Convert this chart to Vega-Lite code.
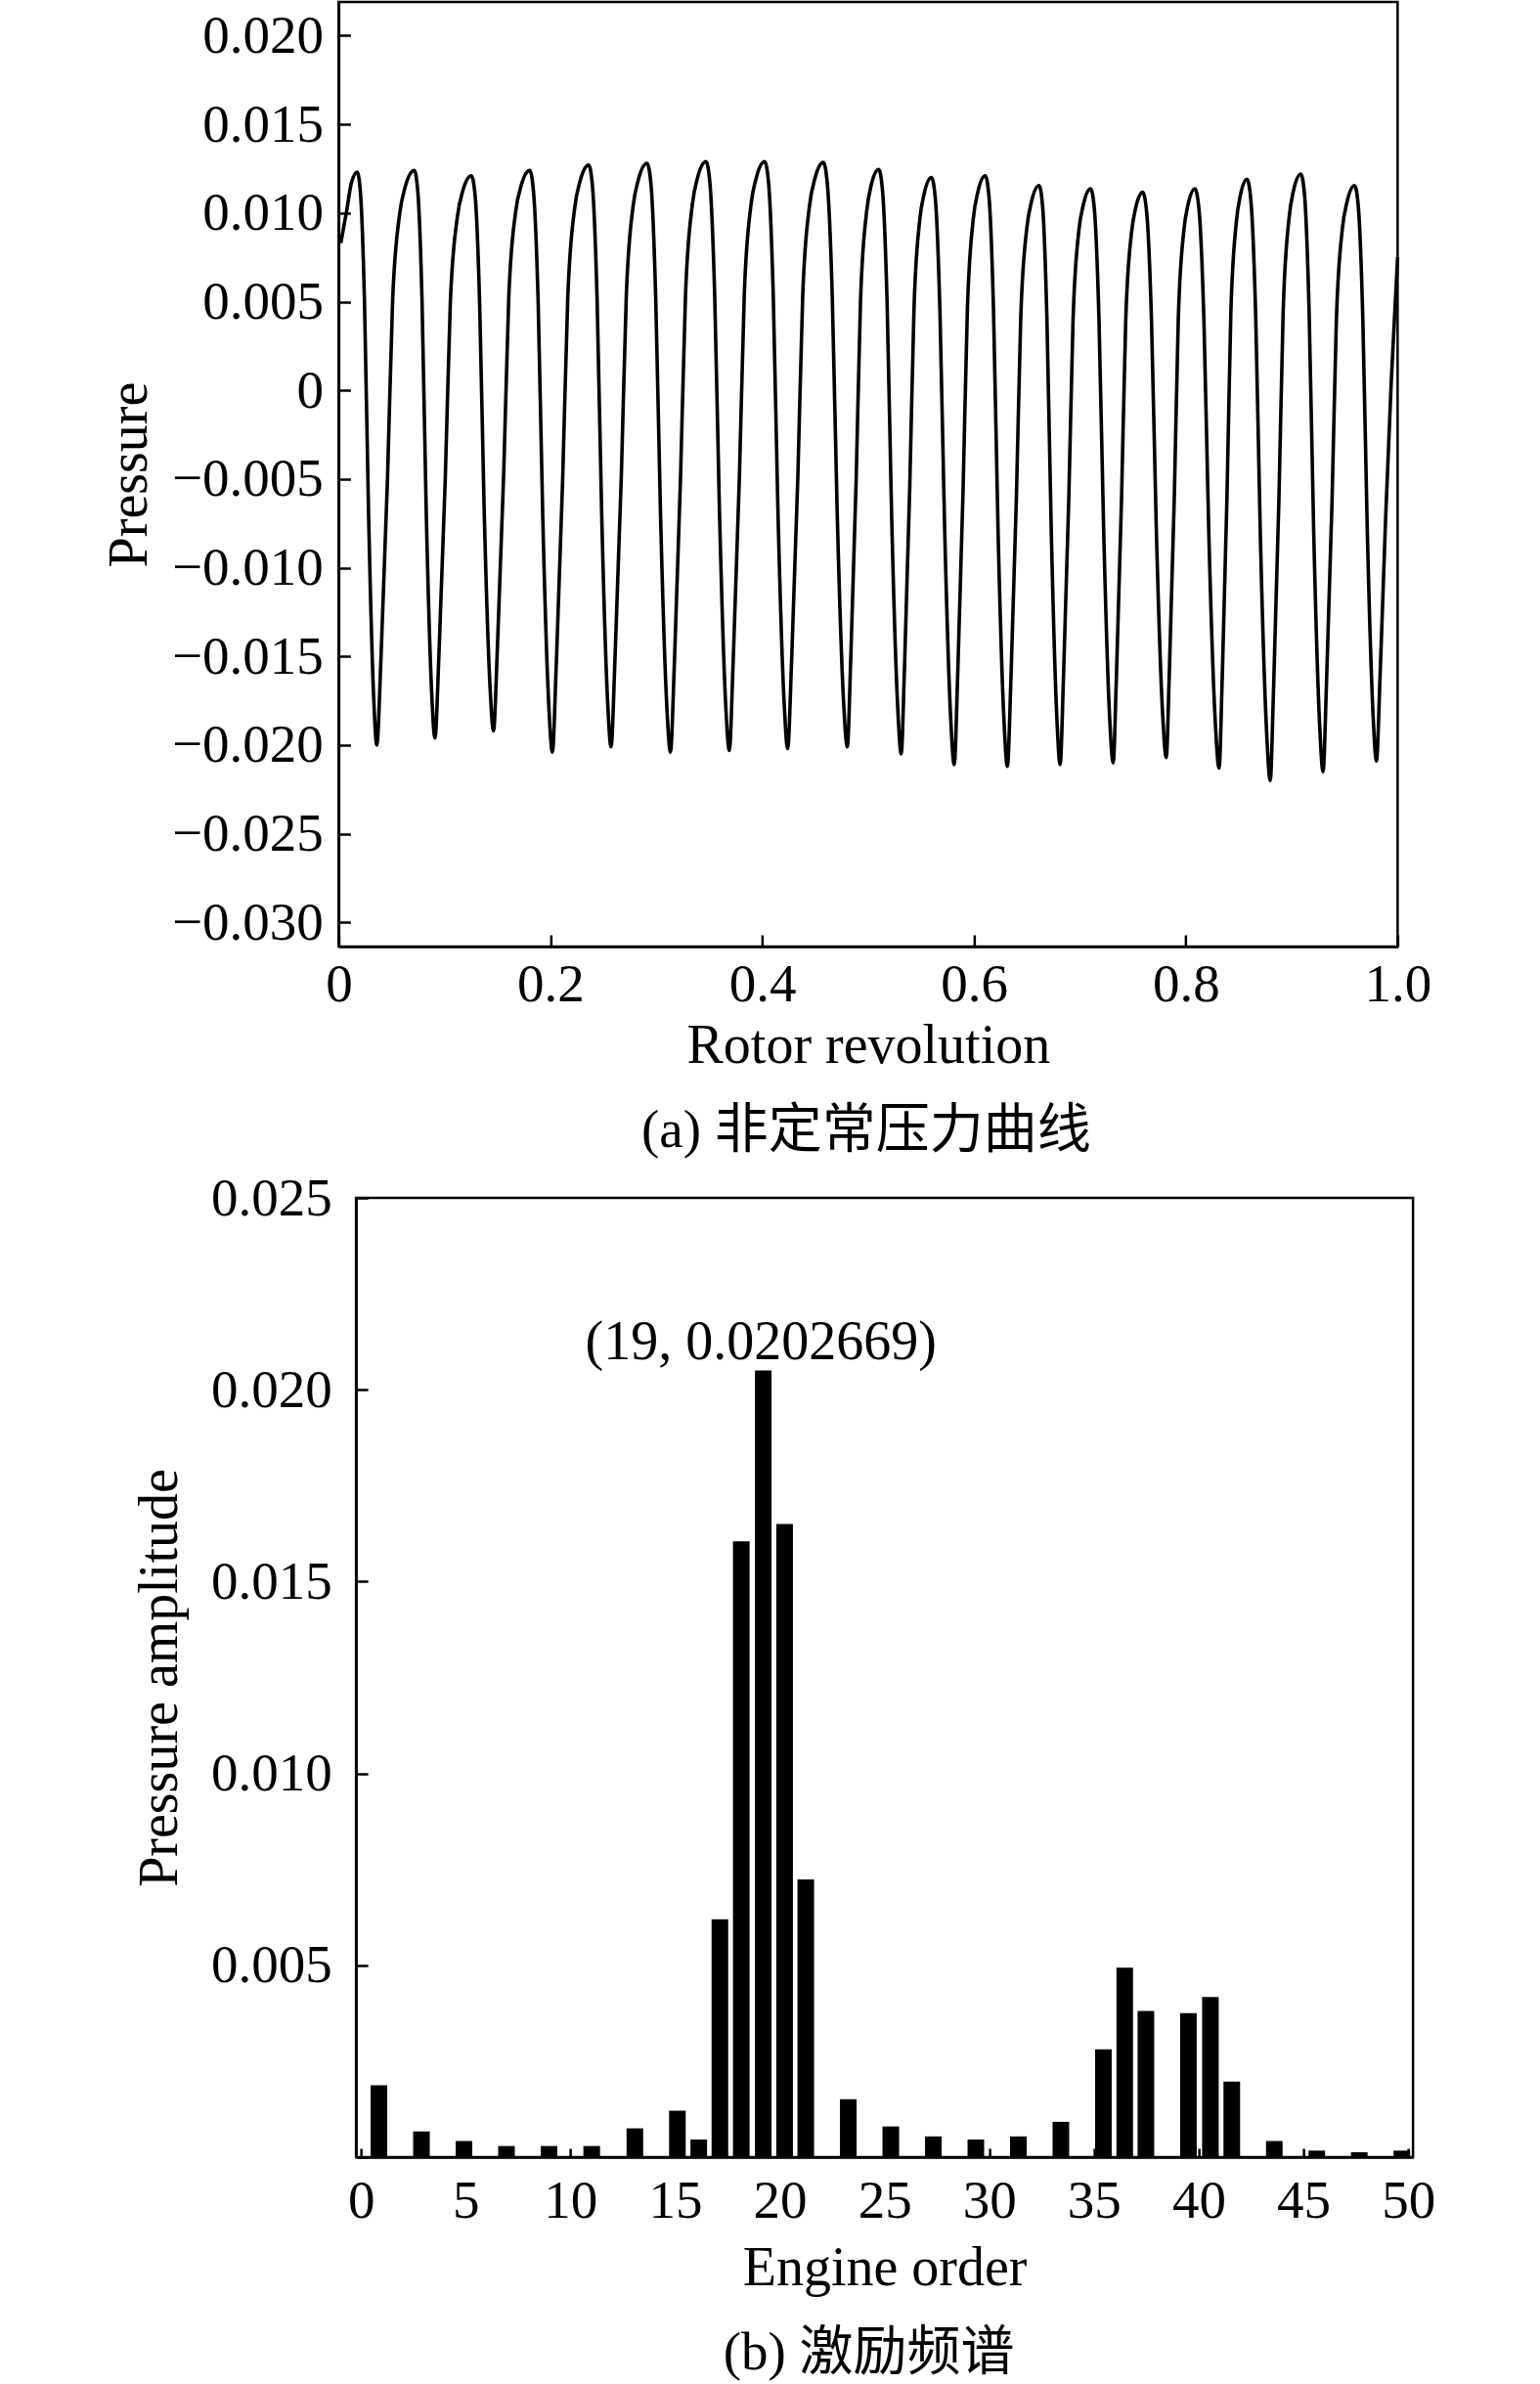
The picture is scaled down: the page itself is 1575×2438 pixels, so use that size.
{
  "$schema": "https://vega.github.io/schema/vega-lite/v6.json",
  "background": "white",
  "padding": {"left": 103, "top": 0, "right": 5, "bottom": 0},
  "center": true,
  "spacing": 10,
  "config": {
    "font": "Liberation Serif",
    "view": {"stroke": "black", "strokeWidth": 2.5},
    "axis": {
      "grid": false,
      "labelFont": "Liberation Serif",
      "titleFont": "Liberation Serif",
      "labelFontSize": 55,
      "titleFontSize": 56,
      "titleFontWeight": "normal",
      "labelColor": "black",
      "titleColor": "black",
      "domainColor": "black",
      "domainWidth": 2.5,
      "tickColor": "black",
      "tickWidth": 2.5,
      "labelFlush": false,
      "labelOverlap": false
    },
    "title": {
      "font": "Liberation Serif, Noto Sans CJK SC",
      "fontSize": 55,
      "fontWeight": "normal",
      "color": "black"
    }
  },
  "vconcat": [
    {
      "width": 1083,
      "height": 966,
      "title": {"text": "(a) 非定常压力曲线", "orient": "bottom", "anchor": "middle", "frame": "group", "offset": 33, "dx": -2},
      "data": {"values": [
        {"rev": 0.002, "p": 0.0083}, {"rev": 0.0075, "p": 0.0101}, {"rev": 0.012, "p": 0.0117},
        {"rev": 0.0175, "p": 0.0123},
        {"rev": 0.0206, "p": 0.0111}, {"rev": 0.0244, "p": 0.00494}, {"rev": 0.0282, "p": -0.00689}, {"rev": 0.0332, "p": -0.01751}, {"rev": 0.0360, "p": -0.0200},
        {"rev": 0.0400, "p": -0.01501}, {"rev": 0.0461, "p": -0.0050}, {"rev": 0.0509, "p": 0.00501}, {"rev": 0.0577, "p": 0.0100}, {"rev": 0.0629, "p": 0.01149},
        {"rev": 0.0714, "p": 0.0124},
        {"rev": 0.0747, "p": 0.01122}, {"rev": 0.0787, "p": 0.0051}, {"rev": 0.0826, "p": -0.00661}, {"rev": 0.0879, "p": -0.01714}, {"rev": 0.0909, "p": -0.0196},
        {"rev": 0.0948, "p": -0.01472}, {"rev": 0.1007, "p": -0.00492}, {"rev": 0.1054, "p": 0.00487}, {"rev": 0.1120, "p": 0.00975}, {"rev": 0.1170, "p": 0.01121},
        {"rev": 0.1253, "p": 0.0121},
        {"rev": 0.1289, "p": 0.01094}, {"rev": 0.1331, "p": 0.00496}, {"rev": 0.1373, "p": -0.00649}, {"rev": 0.1430, "p": -0.01679}, {"rev": 0.1462, "p": -0.0192},
        {"rev": 0.1500, "p": -0.01433}, {"rev": 0.1559, "p": -0.00457}, {"rev": 0.1606, "p": 0.0052}, {"rev": 0.1671, "p": 0.01006}, {"rev": 0.1722, "p": 0.01152},
        {"rev": 0.1804, "p": 0.0124},
        {"rev": 0.1840, "p": 0.01119}, {"rev": 0.1884, "p": 0.00492}, {"rev": 0.1927, "p": -0.00708}, {"rev": 0.1985, "p": -0.01787}, {"rev": 0.2018, "p": -0.0204},
        {"rev": 0.2056, "p": -0.0153}, {"rev": 0.2115, "p": -0.00507}, {"rev": 0.2163, "p": 0.00515}, {"rev": 0.2228, "p": 0.01025}, {"rev": 0.2278, "p": 0.01177},
        {"rev": 0.2361, "p": 0.0127},
        {"rev": 0.2397, "p": 0.01149}, {"rev": 0.2440, "p": 0.00522}, {"rev": 0.2483, "p": -0.00678}, {"rev": 0.2540, "p": -0.01757}, {"rev": 0.2572, "p": -0.0201},
        {"rev": 0.2610, "p": -0.01503}, {"rev": 0.2669, "p": -0.00487}, {"rev": 0.2716, "p": 0.0053}, {"rev": 0.2780, "p": 0.01037}, {"rev": 0.2830, "p": 0.01188},
        {"rev": 0.2912, "p": 0.0128},
        {"rev": 0.2950, "p": 0.01157}, {"rev": 0.2994, "p": 0.00523}, {"rev": 0.3039, "p": -0.00692}, {"rev": 0.3099, "p": -0.01784}, {"rev": 0.3133, "p": -0.0204},
        {"rev": 0.3171, "p": -0.01527}, {"rev": 0.3228, "p": -0.00498}, {"rev": 0.3275, "p": 0.00531}, {"rev": 0.3339, "p": 0.01044}, {"rev": 0.3388, "p": 0.01197},
        {"rev": 0.3469, "p": 0.0129},
        {"rev": 0.3506, "p": 0.01167}, {"rev": 0.3551, "p": 0.00533}, {"rev": 0.3596, "p": -0.00682}, {"rev": 0.3655, "p": -0.01774}, {"rev": 0.3689, "p": -0.0203},
        {"rev": 0.3726, "p": -0.01519}, {"rev": 0.3784, "p": -0.00493}, {"rev": 0.3830, "p": 0.00533}, {"rev": 0.3893, "p": 0.01044}, {"rev": 0.3943, "p": 0.01197},
        {"rev": 0.4023, "p": 0.0129},
        {"rev": 0.4060, "p": 0.01168}, {"rev": 0.4104, "p": 0.00535}, {"rev": 0.4148, "p": -0.00676}, {"rev": 0.4207, "p": -0.01765}, {"rev": 0.4240, "p": -0.0202},
        {"rev": 0.4278, "p": -0.01511}, {"rev": 0.4336, "p": -0.0049}, {"rev": 0.4382, "p": 0.00531}, {"rev": 0.4446, "p": 0.0104}, {"rev": 0.4496, "p": 0.01192},
        {"rev": 0.4577, "p": 0.01285},
        {"rev": 0.4615, "p": 0.01163}, {"rev": 0.4661, "p": 0.00534}, {"rev": 0.4707, "p": -0.00672}, {"rev": 0.4768, "p": -0.01756}, {"rev": 0.4803, "p": -0.0201},
        {"rev": 0.4836, "p": -0.01509}, {"rev": 0.4887, "p": -0.00502}, {"rev": 0.4928, "p": 0.00504}, {"rev": 0.4985, "p": 0.01005}, {"rev": 0.5028, "p": 0.01155},
        {"rev": 0.5100, "p": 0.01246},
        {"rev": 0.5136, "p": 0.01124}, {"rev": 0.5179, "p": 0.00495}, {"rev": 0.5222, "p": -0.00712}, {"rev": 0.5280, "p": -0.01796}, {"rev": 0.5312, "p": -0.0205},
        {"rev": 0.5344, "p": -0.0155}, {"rev": 0.5393, "p": -0.00545}, {"rev": 0.5433, "p": 0.00459}, {"rev": 0.5487, "p": 0.0096}, {"rev": 0.5529, "p": 0.01109},
        {"rev": 0.5598, "p": 0.0120},
        {"rev": 0.5635, "p": 0.01078}, {"rev": 0.5678, "p": 0.00445}, {"rev": 0.5722, "p": -0.00766}, {"rev": 0.5780, "p": -0.01855}, {"rev": 0.5813, "p": -0.0211},
        {"rev": 0.5846, "p": -0.01599}, {"rev": 0.5896, "p": -0.00573}, {"rev": 0.5937, "p": 0.00453}, {"rev": 0.5992, "p": 0.00964}, {"rev": 0.6035, "p": 0.01117},
        {"rev": 0.6106, "p": 0.0121},
        {"rev": 0.6142, "p": 0.01087}, {"rev": 0.6184, "p": 0.00451}, {"rev": 0.6226, "p": -0.00768}, {"rev": 0.6283, "p": -0.01864}, {"rev": 0.6315, "p": -0.0212},
        {"rev": 0.6349, "p": -0.01616}, {"rev": 0.6400, "p": -0.00604}, {"rev": 0.6441, "p": 0.00408}, {"rev": 0.6498, "p": 0.00913}, {"rev": 0.6542, "p": 0.01063},
        {"rev": 0.6614, "p": 0.01155},
        {"rev": 0.6648, "p": 0.01034}, {"rev": 0.6688, "p": 0.00411}, {"rev": 0.6729, "p": -0.00784}, {"rev": 0.6783, "p": -0.01859}, {"rev": 0.6813, "p": -0.0211},
        {"rev": 0.6845, "p": -0.0161}, {"rev": 0.6895, "p": -0.00607}, {"rev": 0.6935, "p": 0.00397}, {"rev": 0.6989, "p": 0.00897}, {"rev": 0.7032, "p": 0.01046},
        {"rev": 0.7101, "p": 0.01137},
        {"rev": 0.7137, "p": 0.01017}, {"rev": 0.7180, "p": 0.00399}, {"rev": 0.7224, "p": -0.00786}, {"rev": 0.7281, "p": -0.01851}, {"rev": 0.7314, "p": -0.0210},
        {"rev": 0.7345, "p": -0.01605}, {"rev": 0.7393, "p": -0.00611}, {"rev": 0.7432, "p": 0.00384}, {"rev": 0.7485, "p": 0.00879}, {"rev": 0.7526, "p": 0.01027},
        {"rev": 0.7593, "p": 0.01117},
        {"rev": 0.7631, "p": 0.00999}, {"rev": 0.7676, "p": 0.0039}, {"rev": 0.7721, "p": -0.00776}, {"rev": 0.7781, "p": -0.01825}, {"rev": 0.7815, "p": -0.0207},
        {"rev": 0.7845, "p": -0.01576}, {"rev": 0.7892, "p": -0.00585}, {"rev": 0.7929, "p": 0.00406}, {"rev": 0.7981, "p": 0.009}, {"rev": 0.8021, "p": 0.01047},
        {"rev": 0.8086, "p": 0.01137},
        {"rev": 0.8125, "p": 0.01016}, {"rev": 0.8171, "p": 0.00392}, {"rev": 0.8217, "p": -0.00804}, {"rev": 0.8279, "p": -0.01878}, {"rev": 0.8314, "p": -0.0213},
        {"rev": 0.8344, "p": -0.01619}, {"rev": 0.8389, "p": -0.00593}, {"rev": 0.8425, "p": 0.00433}, {"rev": 0.8476, "p": 0.00944}, {"rev": 0.8514, "p": 0.01097},
        {"rev": 0.8578, "p": 0.0119},
        {"rev": 0.8615, "p": 0.01065}, {"rev": 0.8660, "p": 0.00417}, {"rev": 0.8704, "p": -0.00824}, {"rev": 0.8764, "p": -0.01939}, {"rev": 0.8797, "p": -0.0220},
        {"rev": 0.8829, "p": -0.01673}, {"rev": 0.8879, "p": -0.00617}, {"rev": 0.8919, "p": 0.0044}, {"rev": 0.8974, "p": 0.00967}, {"rev": 0.9016, "p": 0.01124},
        {"rev": 0.9086, "p": 0.0122},
        {"rev": 0.9122, "p": 0.01095}, {"rev": 0.9164, "p": 0.00452}, {"rev": 0.9207, "p": -0.00782}, {"rev": 0.9264, "p": -0.01891}, {"rev": 0.9296, "p": -0.0215},
        {"rev": 0.9329, "p": -0.01641}, {"rev": 0.9381, "p": -0.0062}, {"rev": 0.9422, "p": 0.00401}, {"rev": 0.9478, "p": 0.0091}, {"rev": 0.9522, "p": 0.01062},
        {"rev": 0.9594, "p": 0.01155},
        {"rev": 0.9629, "p": 0.01035}, {"rev": 0.9671, "p": 0.00415}, {"rev": 0.9713, "p": -0.00773}, {"rev": 0.9769, "p": -0.0184}, {"rev": 0.9800, "p": -0.0209},
        {"rev": 0.9835, "p": -0.0160}, {"rev": 0.9885, "p": -0.0075}, {"rev": 0.9940, "p": 0.0005}, {"rev": 1.0, "p": 0.0075}
      ]},
      "encoding": {
        "x": {
          "field": "rev",
          "type": "quantitative",
          "scale": {"domain": [0, 1], "nice": false, "zero": false},
          "axis": {
            "title": "Rotor revolution",
            "values": [0, 0.2, 0.4, 0.6, 0.8, 1],
            "labelExpr": "datum.value == 0 ? '0' : format(datum.value, '.1f')",
            "tickSize": -12,
            "labelPadding": 24,
            "minExtent": 66,
            "maxExtent": 66,
            "titlePadding": 8
          }
        }
      },
      "layer": [
        {
          "mark": {"type": "line", "interpolate": "monotone", "color": "black", "strokeWidth": 3.6},
          "encoding": {
            "y": {
              "field": "p",
              "type": "quantitative",
              "scale": {"domain": [-0.03136, 0.0219], "nice": false, "zero": false},
              "axis": {
                "title": "Pressure",
                "orient": "left",
                "values": [-0.03, -0.025, -0.02, -0.015, -0.01, -0.005, 0, 0.005, 0.01, 0.015, 0.02],
                "labelExpr": "datum.value == 0 ? '0' : format(datum.value, '.3f')",
                "tickSize": -12,
                "labelPadding": 28,
                "minExtent": 170,
                "maxExtent": 170,
                "titlePadding": 15
              }
            }
          }
        },
        {
          "mark": {"type": "line", "opacity": 0},
          "encoding": {
            "y": {
              "field": "p",
              "type": "quantitative",
              "axis": {"orient": "right", "labels": false, "ticks": false, "domain": false, "title": null, "minExtent": 56, "maxExtent": 56}
            }
          }
        }
      ],
      "resolve": {"axis": {"y": "independent"}}
    },
    {
      "width": 1081,
      "height": 981,
      "title": {"text": "(b) 激励频谱", "orient": "bottom", "anchor": "middle", "frame": "group", "offset": 33, "dx": -16},
      "layer": [
        {
          "data": {"values": [
            {"order": 0.86, "amp": 0.00187}, {"order": 2.89, "amp": 0.00067}, {"order": 4.92, "amp": 0.00042},
            {"order": 6.95, "amp": 0.00029}, {"order": 8.98, "amp": 0.00029}, {"order": 11.02, "amp": 0.00029},
            {"order": 13.08, "amp": 0.00075}, {"order": 15.11, "amp": 0.00121}, {"order": 16.13, "amp": 0.00046},
            {"order": 17.14, "amp": 0.0062}, {"order": 18.16, "amp": 0.01605}, {"order": 19.21, "amp": 0.0205},
            {"order": 20.23, "amp": 0.0165}, {"order": 21.24, "amp": 0.00724}, {"order": 23.27, "amp": 0.00151},
            {"order": 25.3, "amp": 0.0008}, {"order": 27.33, "amp": 0.00054}, {"order": 29.36, "amp": 0.00046},
            {"order": 31.39, "amp": 0.00054}, {"order": 33.42, "amp": 0.00092}, {"order": 35.45, "amp": 0.00281},
            {"order": 36.47, "amp": 0.00494}, {"order": 37.48, "amp": 0.00381}, {"order": 39.51, "amp": 0.00375},
            {"order": 40.56, "amp": 0.00417}, {"order": 41.58, "amp": 0.00197}, {"order": 43.61, "amp": 0.00042},
            {"order": 45.64, "amp": 0.00017}, {"order": 47.67, "amp": 0.00013}, {"order": 49.7, "amp": 0.00017}
          ]},
          "mark": {"type": "bar", "color": "black", "width": 17},
          "encoding": {
            "x": {
              "field": "order",
              "type": "quantitative",
              "scale": {"domain": [0, 50], "nice": false, "zero": false},
              "axis": {
                "title": "Engine order",
                "values": [0, 5, 10, 15, 20, 25, 30, 35, 40, 45, 50],
                "format": "d",
                "tickSize": -9,
                "labelPadding": 27,
                "minExtent": 72,
                "maxExtent": 72,
                "titlePadding": 14
              }
            },
            "y": {
              "field": "amp",
              "type": "quantitative",
              "scale": {"domain": [0, 0.025], "nice": false},
              "axis": {
                "title": "Pressure amplitude",
                "values": [0, 0.005, 0.01, 0.015, 0.02, 0.025],
                "labelExpr": "datum.value == 0 ? '' : format(datum.value, '.3f')",
                "tickSize": -12,
                "labelPadding": 37,
                "minExtent": 147,
                "maxExtent": 147,
                "titlePadding": 25
              }
            },
            "y2": {"datum": 0}
          }
        },
        {
          "data": {"values": [{"order": 19.1, "amp": 0.0208, "label": "(19, 0.0202669)"}]},
          "mark": {"type": "text", "align": "center", "baseline": "alphabetic", "font": "Liberation Serif", "fontSize": 56, "color": "black"},
          "encoding": {
            "x": {"field": "order", "type": "quantitative"},
            "y": {"field": "amp", "type": "quantitative"},
            "text": {"field": "label"}
          }
        }
      ]
    }
  ]
}
